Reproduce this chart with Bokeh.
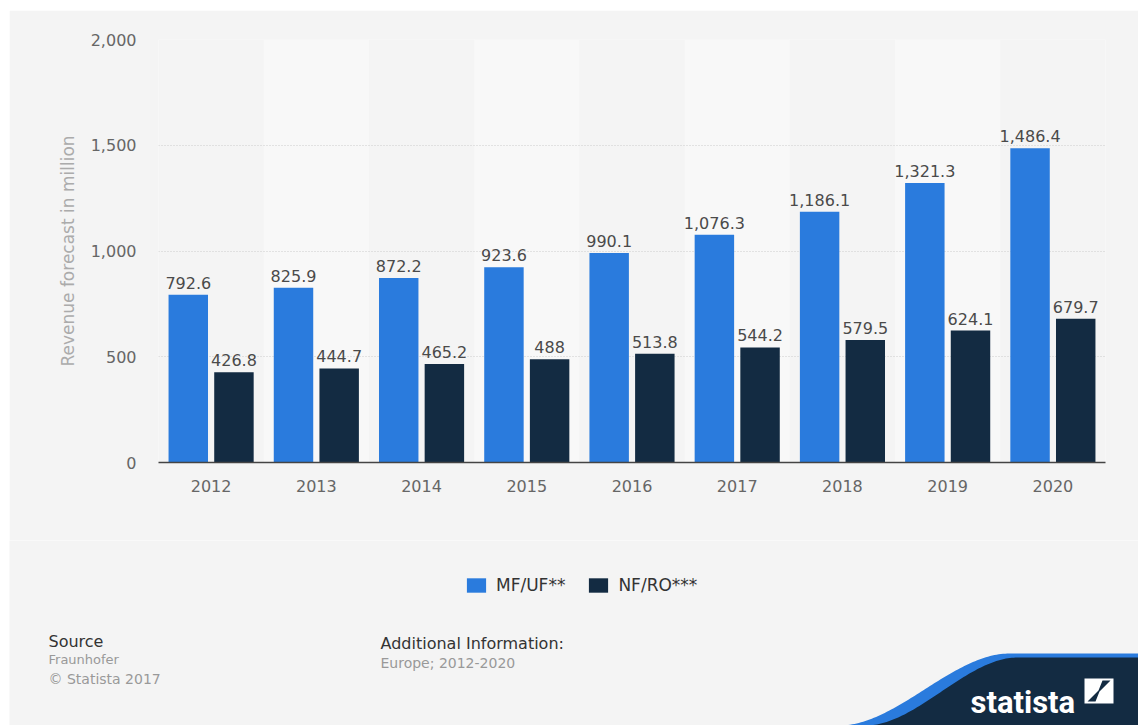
import numpy as np
from bokeh.plotting import figure
from bokeh.models import (ColumnDataSource, Range1d, FactorRange, FixedTicker,
                          NumeralTickFormatter, Legend, LegendItem)
from bokeh.transform import dodge
from bokeh.layouts import column
from bokeh.embed import file_html
from bokeh.resources import INLINE
from bokeh.core.properties import value

# ---------------- data ----------------
years = ["2012", "2013", "2014", "2015", "2016", "2017", "2018", "2019", "2020"]
mf_uf = [792.6, 825.9, 872.2, 923.6, 990.1, 1076.3, 1186.1, 1321.3, 1486.4]
nf_ro = [426.8, 444.7, 465.2, 488.0, 513.8, 544.2, 579.5, 624.1, 679.7]
series_names = ["MF/UF**", "NF/RO***"]
y_ticks = [0, 500, 1000, 1500, 2000]
y_axis_title = "Revenue forecast in million"
source_title = "Source"
source_lines = ["Fraunhofer", "\u00a9 Statista 2017"]
info_title = "Additional Information:"
info_lines = ["Europe; 2012-2020"]
brand = "statista"

# ---------------- style ----------------
BG = "#f4f4f4"
BAND = "#f8f8f8"
BLUE = "#2a7bdd"
NAVY = "#132b42"
FONT = "DejaVu Sans"
COLORS = [BLUE, NAVY]


def fmt(v):
    s = f"{v:,.1f}"
    return s[:-2] if s.endswith(".0") else s


W = 1129
H_MAIN = 530
H_FOOT = 185

p = figure(width=W, height=H_MAIN, title=None,
           x_range=FactorRange(*years), y_range=Range1d(y_ticks[0], y_ticks[-1]),
           output_backend="svg", toolbar_location=None,
           min_border_left=149, min_border_right=33,
           min_border_top=29, min_border_bottom=78,
           background_fill_color=BG, border_fill_color=BG,
           outline_line_color=None)
p.frame_align = False

# alternating light bands behind every second category
band_x = years[1::2]
band_src = ColumnDataSource(dict(x=band_x, top=[y_ticks[-1]] * len(band_x)))
p.vbar(x="x", top="top", bottom=y_ticks[0], width=1.0, source=band_src,
       fill_color=BAND, line_color=None, level="image")

src = ColumnDataSource(dict(
    year=years, mf=mf_uf, nf=nf_ro,
    mf_lbl=[fmt(v) for v in mf_uf], nf_lbl=[fmt(v) for v in nf_ro]))

OFF = 0.217
BW = 0.375
p.vbar(x=dodge("year", -OFF, range=p.x_range), top="mf", width=BW,
       source=src, fill_color=COLORS[0], line_color=None)
p.vbar(x=dodge("year", OFF, range=p.x_range), top="nf", width=BW,
       source=src, fill_color=COLORS[1], line_color=None)

for off, col in ((-OFF, "mf"), (OFF, "nf")):
    p.text(x=dodge("year", off, range=p.x_range), y=col, text=col + "_lbl",
           source=src, text_align="center", text_baseline="alphabetic",
           y_offset=-12, text_font_size="16px", text_color="#4a4a4a",
           text_font=value(FONT))

# axes
p.yaxis.ticker = FixedTicker(ticks=y_ticks)
p.yaxis.formatter = NumeralTickFormatter(format="0,0")
p.yaxis.axis_line_color = None
p.yaxis.major_tick_line_color = None
p.yaxis.minor_tick_line_color = None
p.yaxis.major_tick_out = 0
p.yaxis.major_tick_in = 0
p.yaxis.major_label_standoff = 22
p.yaxis.major_label_text_font_size = "16px"
p.yaxis.major_label_text_color = "#666666"
p.yaxis.major_label_text_font = FONT
p.yaxis.axis_label = y_axis_title
p.yaxis.axis_label_text_font_size = "17px"
p.yaxis.axis_label_text_font_style = "normal"
p.yaxis.axis_label_text_color = "#ababab"
p.yaxis.axis_label_text_font = FONT
p.yaxis.axis_label_standoff = 10

p.xaxis.axis_line_color = "#444444"
p.xaxis.axis_line_width = 1.5
p.xaxis.major_tick_line_color = None
p.xaxis.minor_tick_line_color = None
p.xaxis.major_tick_out = 0
p.xaxis.major_tick_in = 0
p.xaxis.major_label_standoff = 17
p.xaxis.major_label_text_font_size = "16px"
p.xaxis.major_label_text_color = "#666666"
p.xaxis.major_label_text_font = FONT

p.xgrid.grid_line_color = None
p.ygrid.grid_line_color = "#cccccc"
p.ygrid.grid_line_dash = "1 2"
p.ygrid.grid_line_width = 1

# ---------------- footer (legend + source) ----------------
f = figure(width=W, height=H_FOOT, title=None,
           x_range=Range1d(0, W), y_range=Range1d(0, H_FOOT),
           output_backend="svg", toolbar_location=None,
           x_axis_type=None, y_axis_type=None,
           min_border_left=0, min_border_right=0,
           min_border_top=0, min_border_bottom=0,
           background_fill_color=BG, border_fill_color=BG,
           outline_line_color=None)
f.frame_align = False

# legend swatches (series colours); zero-height proxy bars carry the style
proxies = [f.vbar(x=[0], top=[0], bottom=[0], width=0, fill_color=c,
                  line_color=None)
           for c in COLORS]
legend = Legend(items=[LegendItem(label=n, renderers=[r])
                       for n, r in zip(series_names, proxies)],
                location=(455, 130), orientation="horizontal",
                glyph_width=24, glyph_height=18, label_height=18,
                label_standoff=8, spacing=21, padding=0, margin=0,
                border_line_color=None, background_fill_alpha=0,
                label_text_font_size="17px", label_text_color="#333333",
                label_text_font=FONT)
f.add_layout(legend)

f.text(x=[39, 371], y=[84, 82], text=[source_title, info_title],
       text_baseline="middle", text_font_size="16px", text_color="#333333",
       text_font=value(FONT))
f.text(x=[39], y=[66], text=[source_lines[0]], text_baseline="middle",
       text_font_size="13px", text_color="#999999", text_font=value(FONT))
f.text(x=[39], y=[47], text=[source_lines[1]], text_baseline="middle",
       text_font_size="14px", text_color="#999999", text_font=value(FONT))
f.text(x=[371], y=[63], text=[info_lines[0]], text_baseline="middle",
       text_font_size="14px", text_color="#999999", text_font=value(FONT))

# decorative brand wave
t = np.linspace(0, 1, 80)
s = 3 * t ** 2 - 2 * t ** 3


def wave(x0, x1, h):
    xs = list(x0 + (x1 - x0) * t) + [W, W, x0]
    ys = list(h * s) + [h, 0, 0]
    return xs, ys


bx, by = wave(830, 1000, 72)
f.patch(bx, by, fill_color=BLUE, line_color=None)
dx, dy = wave(856, 1008, 68)
f.patch(dx, dy, fill_color=NAVY, line_color=None)

f.text(x=[961], y=[23], text=[brand], text_baseline="alphabetic",
       text_font_size="31px", text_font_style="bold", text_color="white",
       text_font=value("Roboto"))

ix, iy, iw, ih = 1075, 22, 29, 25
f.quad(left=[ix], right=[ix + iw], bottom=[iy], top=[iy + ih],
       fill_color="white", line_color=None)
f.patch([ix + 3, ix + 11, ix + 15, ix + 26, ix + 18, ix + 14],
        [iy + 2, iy + 2, iy + 12, iy + 23, iy + 23, iy + 13],
        fill_color=NAVY, line_color=None)

layout = column(p, f, spacing=0, margin=(10, 0, 0, 9))
open("out.html", "w").write(file_html(layout, INLINE))
